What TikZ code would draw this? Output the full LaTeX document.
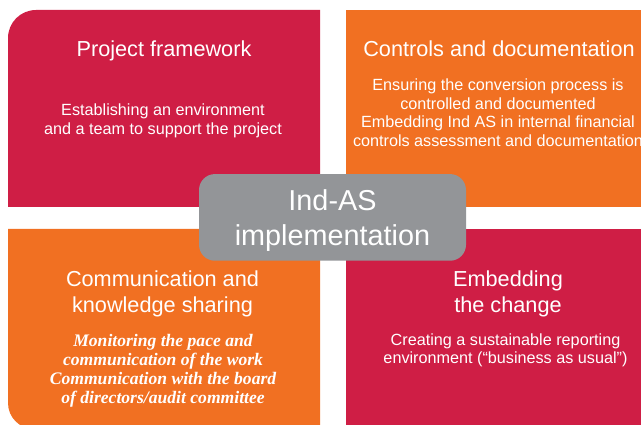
\documentclass[tikz,border=0pt]{standalone}
\usepackage{fontspec}
\setmainfont{Liberation Sans}
\newfontfamily\notefont{Liberation Serif}
\usetikzlibrary{positioning}

\definecolor{pwcrose}{HTML}{CF1E45}
\definecolor{pwcorange}{HTML}{F17022}
\definecolor{pwcgrey}{HTML}{939598}

\begin{document}
\begin{tikzpicture}[x=1pt, y=-1pt,
    every node/.style={text=white, align=center, inner sep=0pt},
    heading/.style={font=\fontsize{21.7}{25.7}\selectfont},
    blurb/.style={font=\fontsize{16.2}{18.5}\selectfont},
    note/.style={font=\notefont\bfseries\itshape\fontsize{17.6}{19.3}\selectfont},
    core/.style={fill=pwcgrey, rounded corners=16pt, minimum width=267pt, minimum height=86.7pt},
    coretext/.style={font=\fontsize{28.8}{34.5}\selectfont}]
    \clip (0,0) rectangle (641,425);

    % four quadrants, outer corners rounded
    \fill[pwcrose] (8,207) -- (8,38) arc[start angle=180, end angle=270, radius=28] -- (320,10) -- (320,207) -- cycle;
    \fill[pwcorange] (346,10) rectangle (670,207);
    \fill[pwcorange] (8,229) -- (320,229) -- (320,429) -- (34,429) arc[start angle=90, end angle=180, radius=26] -- cycle;
    \fill[pwcrose] (346,229) rectangle (670,440);

    \node[heading, anchor=base] (frame) at (164,56.7) {Project framework};
    \node[blurb] (framenote) at (163,121) {Establishing an environment\\and a team to support the project};

    \node[heading, anchor=base] (ctrl) at (499,56.7) {Controls and documentation};
    \node[blurb] (ctrlnote) at (498,112.5) {Ensuring the conversion process is\\controlled and documented\\Embedding Ind AS in internal financial\\controls assessment and documentation};

    \node[heading] (comm) at (162.5,293.8) {Communication and\\knowledge sharing};
    \node[note] (commnote) at (163,370.8) {Monitoring the pace and\\communication of the work\\Communication with the board\\of directors/audit committee};

    \node[heading] (embed) at (508,294.1) {Embedding\\the change};
    \node[blurb] (embednote) at (505.5,350.3) {Creating a sustainable reporting\\environment (“business as usual”)};

    % grey hub on top of the quadrants
    \node[core] (core) at (332.5,217.4) {};
    \node[coretext] (coreline) at (332.5,220.5) {Ind-AS\\implementation};
\end{tikzpicture}
\end{document}
